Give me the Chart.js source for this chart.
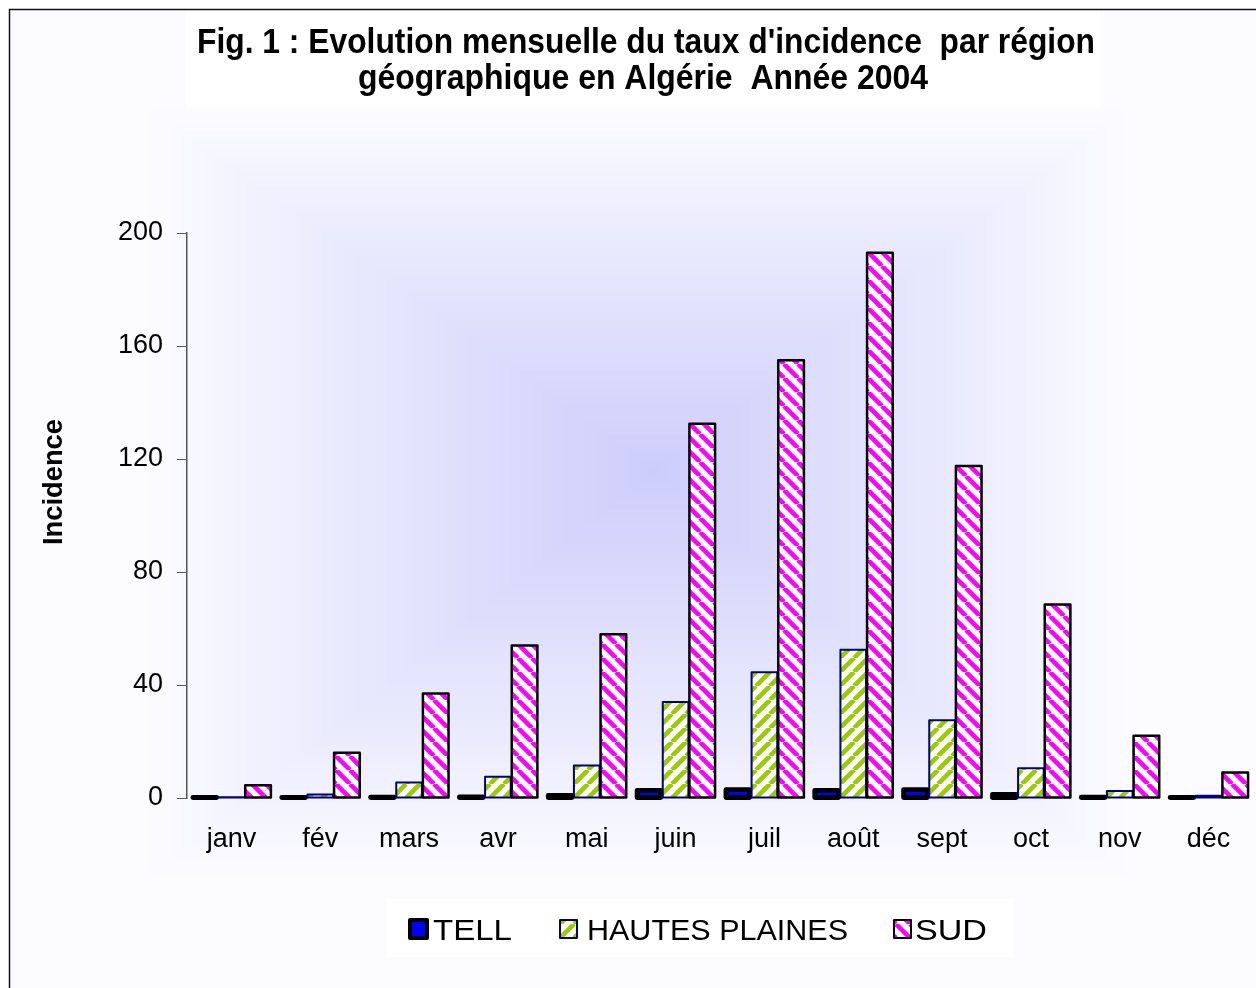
<!DOCTYPE html>
<html>
<head>
<meta charset="utf-8">
<script src="https://cdn.jsdelivr.net/npm/chart.js@4.4.1/dist/chart.umd.min.js"></script>
<style>
  html, body { margin: 0; padding: 0; background: #fff; }
  #wrap { width: 1256px; height: 988px; }
</style>
</head>
<body>
<div id="wrap"><canvas id="chart" width="1256" height="988"></canvas></div>
<script>
'use strict'

var months = ['janv', 'fév', 'mars', 'avr', 'mai', 'juin', 'juil', 'août', 'sept', 'oct', 'nov', 'déc']
var tell = [0.2, 0.2, 0.3, 0.4, 0.9, 2.7, 3.0, 2.7, 3.0, 1.3, 0.3, 0.2]
var hautesPlaines = [0.3, 1.2, 5.5, 7.5, 11.5, 34, 44.5, 52.5, 27.5, 10.5, 2.5, 0.8]
var sud = [4.5, 16, 37, 54, 58, 132.5, 155, 193, 117.5, 68.5, 22, 9]
var yTicks = [0, 40, 80, 120, 160, 200]
var seriesNames = ['TELL', 'HAUTES PLAINES', 'SUD']
var titleLines = ["Fig. 1 : Evolution mensuelle du taux d'incidence  par région", 'géographique en Algérie  Année 2004']
var yTitle = 'Incidence'

var fontFamily = "'Liberation Sans', Arial, sans-serif"
var canvas = document.getElementById('chart')
var ctx = canvas.getContext('2d')

// diagonal hatch, 'up' = /  'down' = \
function stripes(color, dir) {
  var s = 14
  var c = document.createElement('canvas')
  c.width = s
  c.height = s
  var g = c.getContext('2d')
  g.fillStyle = '#fff'
  g.fillRect(0, 0, s, s)
  g.strokeStyle = color
  g.lineWidth = 4.6
  g.beginPath()
  for (var i = -1; i <= 1; i++) {
    if (dir === 'up') {
      g.moveTo(i * s, s)
      g.lineTo(i * s + s, 0)
    } else {
      g.moveTo(i * s, 0)
      g.lineTo(i * s + s, s)
    }
  }
  g.stroke()
  return ctx.createPattern(c, 'repeat')
}

var greenStripes = stripes('#99cc00', 'up')
var pinkStripes = stripes('#ff00ff', 'down')

var seriesStyle = [
  { fill: '#0000ff', border: '#000000', width: 4.8, inset: 1.5 },
  { fill: greenStripes, border: '#000080', width: 2, inset: 0.5 },
  { fill: pinkStripes, border: '#000000', width: 2.5, inset: 0.5 }
]

function fitText(c, text, x, y, width, align) {
  var w = c.measureText(text).width
  c.save()
  c.translate(x, y)
  c.scale(width / w, 1)
  c.textAlign = align
  c.fillText(text, 0, 0)
  c.restore()
}

// outlines centred on the bar edges, drawn in series order
var outlines = {
  id: 'outlines',
  afterDatasetsDraw: function (chart) {
    var c = chart.ctx
    c.save()
    c.lineJoin = 'round'
    seriesStyle.forEach(function (st, i) {
      c.strokeStyle = st.border
      c.lineWidth = st.width
      chart.getDatasetMeta(i).data.forEach(function (bar) {
        var p = bar.getProps(['x', 'y', 'base', 'width'], true)
        c.strokeRect(p.x - p.width / 2 + st.inset, p.y, p.width - 2 * st.inset, p.base - p.y)
      })
    })
    c.restore()
  }
}

var backdrop = {
  id: 'backdrop',
  beforeDraw: function (chart) {
    var c = chart.ctx
    var L = 10, T = 10, R = 1256, B = 988, cx = 655, cy = 470
    c.save()
    c.fillStyle = '#fff'
    c.fillRect(0, 0, 1256, 988)
    var steps = 120
    for (var i = 0; i < steps; i++) {
      var t = 1 - i / steps
      var k = Math.min(t / 0.8, 1)
      var r = Math.round(205 + 47 * k)
      var b = Math.round(251 + 4 * k)
      c.fillStyle = 'rgb(' + r + ',' + r + ',' + b + ')'
      c.fillRect(cx - (cx - L) * t, cy - (cy - T) * t, (R - L) * t, (B - T) * t)
    }
    c.fillStyle = '#fff'
    c.fillRect(186, 10, 914, 97)
    c.fillRect(387, 899, 626, 58)
    c.strokeStyle = '#111'
    c.lineWidth = 1.5
    c.strokeRect(9.5, 9.5, 1260, 1000)
    c.restore()
  },
  afterDraw: function (chart) {
    var c = chart.ctx
    c.save()
    c.fillStyle = '#000'
    c.textBaseline = 'alphabetic'

    c.font = 'bold 35px ' + fontFamily
    fitText(c, titleLines[0], 646, 53, 898, 'center')
    fitText(c, titleLines[1], 643, 89, 570, 'center')

    c.save()
    c.translate(62, 482)
    c.rotate(-Math.PI / 2)
    c.font = 'bold 27px ' + fontFamily
    fitText(c, yTitle, 0, 0, 126, 'center')
    c.restore()

    // legend
    var items = [
      { box: 410, text: 433, w: 79 },
      { box: 560, text: 587, w: 261 },
      { box: 894, text: 915, w: 72 }
    ]
    c.font = '29px ' + fontFamily
    c.lineJoin = 'round'
    items.forEach(function (it, i) {
      var st = seriesStyle[i]
      c.fillStyle = st.fill
      c.fillRect(it.box, 920, 17, 18)
      c.strokeStyle = st.border
      c.lineWidth = i === 0 ? 4 : 2
      c.strokeRect(it.box, 920, 17, 18)
      c.fillStyle = '#000'
      fitText(c, seriesNames[i], it.text, 940, it.w, 'left')
    })
    c.restore()
  }
}

Chart.defaults.font.family = fontFamily

var chart = new Chart(ctx, {
  type: 'bar',
  data: {
    labels: months,
    datasets: [
      { label: seriesNames[0], data: tell, backgroundColor: seriesStyle[0].fill },
      { label: seriesNames[1], data: hautesPlaines, backgroundColor: seriesStyle[1].fill },
      { label: seriesNames[2], data: sud, backgroundColor: seriesStyle[2].fill }
    ]
  },
  options: {
    responsive: false,
    animation: false,
    devicePixelRatio: 1,
    layout: { padding: { top: 233, bottom: 110, left: 0, right: 3 } },
    datasets: {
      bar: { categoryPercentage: 0.9, barPercentage: 1, borderWidth: 0, inflateAmount: 0 }
    },
    plugins: {
      legend: { display: false },
      title: { display: false },
      tooltip: { enabled: false }
    },
    scales: {
      x: {
        grid: { display: false, drawTicks: false },
        border: { display: false },
        ticks: { color: '#000', font: { size: 27 }, padding: 25 },
        afterFit: function (scale) { scale.height = 80 }
      },
      y: {
        min: 0,
        max: 200,
        afterBuildTicks: function (scale) {
          scale.ticks = yTicks.map(function (v) { return { value: v } })
        },
        grid: { drawOnChartArea: false, tickLength: 10, tickColor: '#555' },
        border: { color: '#555', width: 1.5 },
        ticks: { color: '#000', font: { size: 27 }, padding: 14 },
        afterFit: function (scale) { scale.width = 187 }
      }
    }
  },
  plugins: [backdrop, outlines]
})
</script>
</body>
</html>
